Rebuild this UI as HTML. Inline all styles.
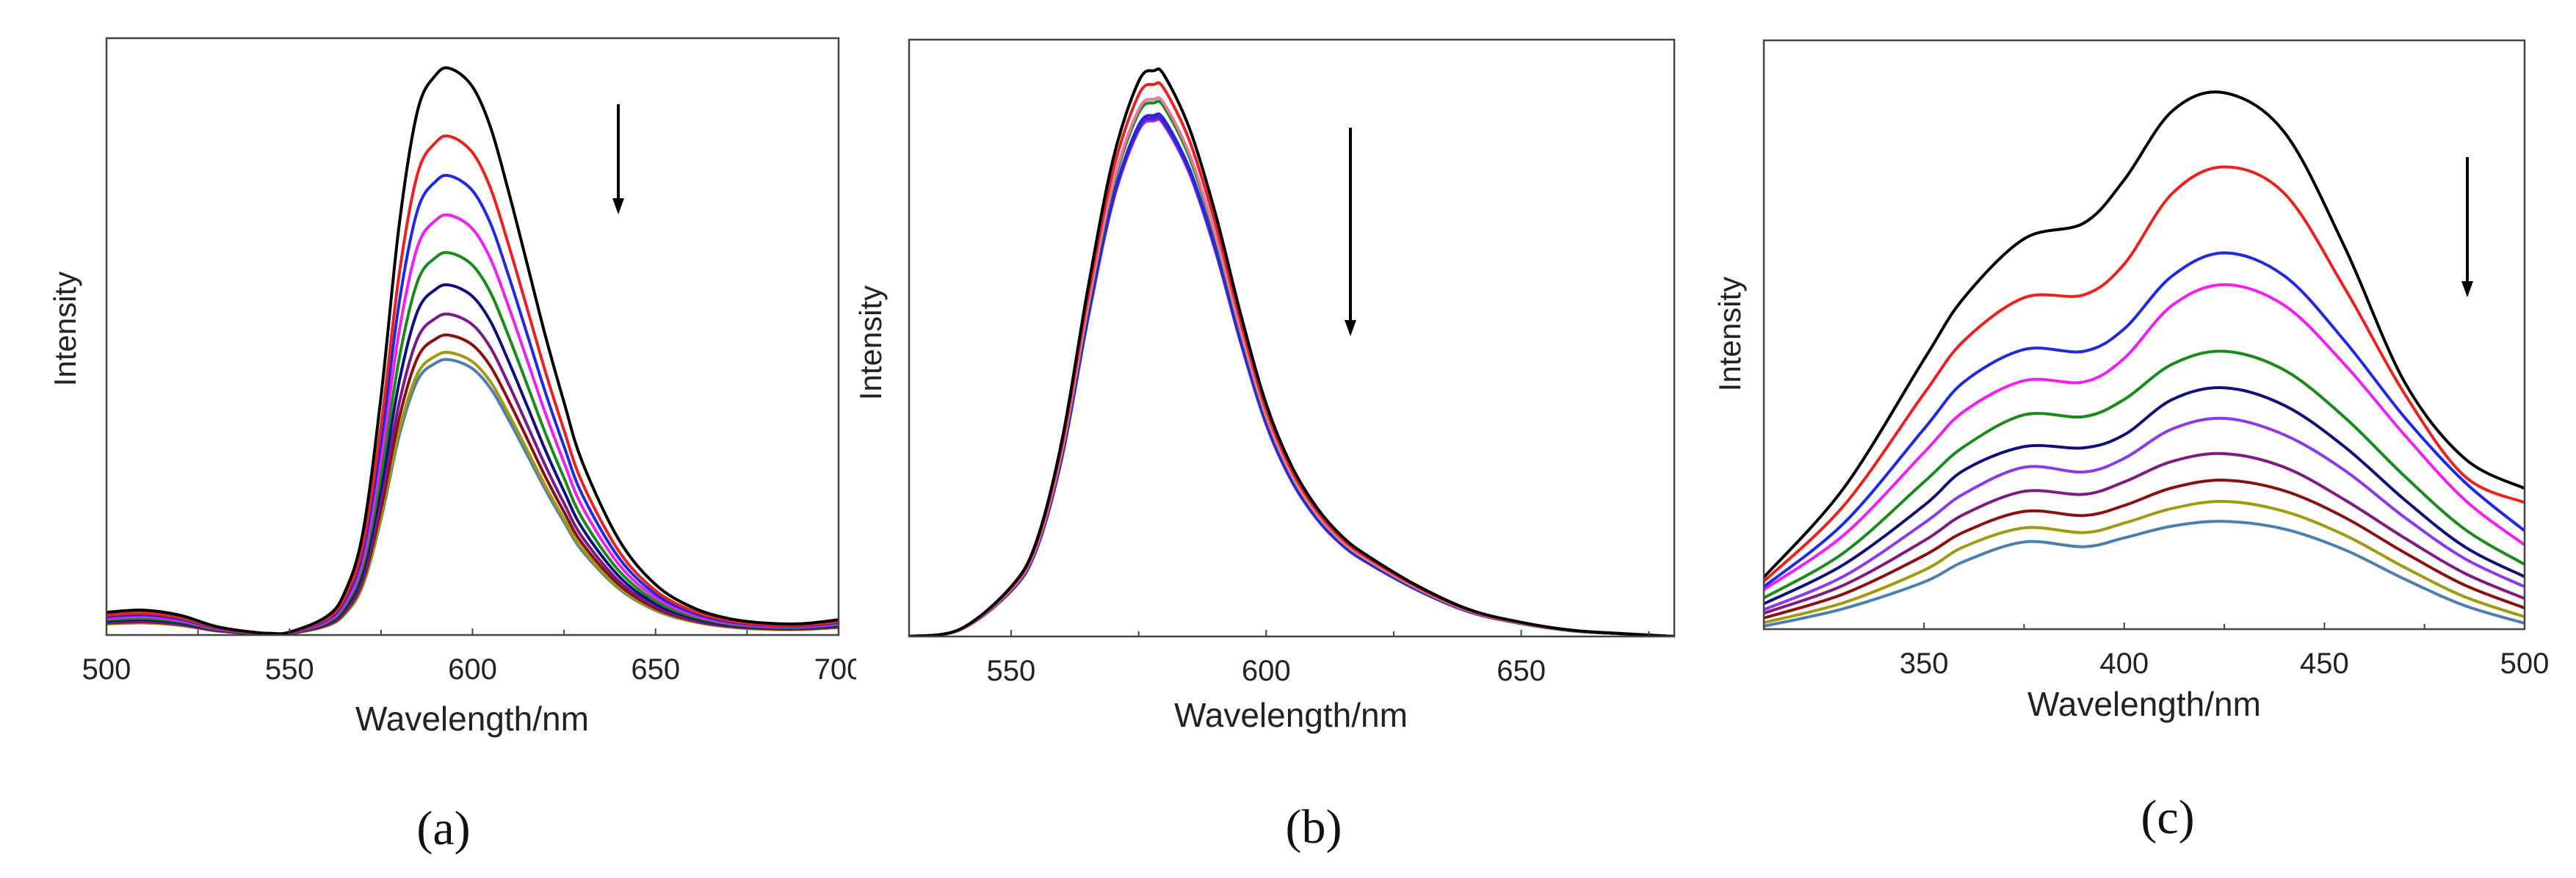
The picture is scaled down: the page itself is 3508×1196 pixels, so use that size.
<!DOCTYPE html>
<html><head><meta charset="utf-8"><style>
html,body{margin:0;padding:0;background:#fff;width:3508px;height:1196px;overflow:hidden}
svg{display:block}
.tk{font-family:"Liberation Sans",sans-serif;font-size:40px;fill:#222}
.ti{font-family:"Liberation Sans",sans-serif;font-size:46px;fill:#222}
.yt{font-family:"Liberation Sans",sans-serif;font-size:42px;fill:#222}
.cap{font-family:"Liberation Serif",serif;font-size:66px;fill:#111}
</style></head><body>
<svg id="fig" width="3508" height="1196" viewBox="0 0 3508 1196" xmlns="http://www.w3.org/2000/svg">
</svg>
<script>
// ---------- Panel (a) data ----------
const aWavelengths = [500,510,520,530,540,545,550,560,565,570,575,580,585,590,594,600,605,610,615,620,625,630,640,650,660,670,680,690,700];
const aProfile = [0.040,0.044,0.035,0.015,0.005,0.003,0.005,0.032,0.074,0.179,0.421,0.726,0.926,0.989,1.0,0.968,0.895,0.779,0.653,0.526,0.411,0.305,0.168,0.089,0.049,0.029,0.021,0.020,0.027];
const aPeaks = [0.949,0.835,0.769,0.703,0.640,0.586,0.537,0.502,0.473,0.461];
const aColors = ["#000000","#e8231f","#1f2ae0","#f020f0","#1a8a1a","#10107a","#7a1a8a","#8b1010","#a09a10","#4a80b0"];
// ---------- Panel (b) data ----------
const bWavelengths = [530,540,550,555,560,565,570,575,578,580,585,590,595,600,605,610,615,620,630,640,650,660,670,680];
const bProfile = [0.0,0.013,0.088,0.169,0.348,0.612,0.844,0.981,1.0,0.992,0.897,0.749,0.570,0.411,0.301,0.227,0.176,0.142,0.088,0.047,0.025,0.011,0.005,0.0];
const bPeaks = [0.948,0.925,0.90,0.894,0.873,0.868,0.864];
const bColors = ["#000000","#e8231f","#e878a0","#1a8a1a","#1f2ae0","#5a20c0","#8a2be8"];
// ---------- Panel (c) data ----------
const cWavelengths = [310,330,350,360,375,390,400,412,425,440,455,470,485,500];
const cSeries0 = [.088,.24,.458,.563,.663,.69,.763,.88,.911,.844,.65,.42,.29,.239];
const cSeries1 = [.081,.21,.40,.49,.563,.568,.62,.74,.785,.74,.58,.40,.26,.215];
const cSeries2 = [.072,.18,.34,.42,.475,.472,.51,.60,.639,.60,.49,.36,.25,.167];
const cSeries3 = [.067,.16,.30,.37,.422,.42,.46,.55,.585,.55,.45,.33,.22,.143];
const cSeries4 = [.053,.13,.25,.31,.364,.361,.39,.45,.472,.44,.36,.26,.17,.11];
const cSeries5 = [.043,.11,.21,.27,.31,.308,.33,.39,.41,.38,.31,.22,.14,.089];
const cSeries6 = [.033,.09,.18,.23,.275,.267,.29,.34,.358,.33,.27,.19,.12,.072];
const cSeries7 = [.027,.075,.15,.195,.234,.229,.25,.285,.298,.275,.22,.155,.095,.052];
const cSeries8 = [.019,.06,.125,.165,.20,.193,.21,.24,.253,.235,.19,.13,.075,.036];
const cSeries9 = [.011,.045,.10,.14,.172,.164,.18,.205,.217,.20,.16,.105,.055,.021];
const cSeries10 = [.005,.035,.08,.115,.148,.14,.155,.175,.183,.17,.135,.085,.04,.01];
const cColors = ["#000000","#e8231f","#1f2ae0","#f020f0","#1a8a1a","#10107a","#8a3ae8","#801a80","#8b1010","#a09a10","#4a80b0"];
const aTicks = ["500","550","600","650","700"];
const bTicks = ["550","600","650"];
const cTicks = ["350","400","450","500"];

const NS = "http://www.w3.org/2000/svg";
const svg = document.getElementById("fig");
function mk(tag, attrs, parent){const e=document.createElementNS(NS,tag);for(const k in attrs)e.setAttribute(k,attrs[k]);(parent||svg).appendChild(e);return e;}
function smooth(pts){let d="M"+pts[0][0].toFixed(1)+","+pts[0][1].toFixed(1);
 for(let i=0;i<pts.length-1;i++){const p0=pts[i-1]||pts[i],p1=pts[i],p2=pts[i+1],p3=pts[i+2]||p2;
  const c1=[p1[0]+(p2[0]-p0[0])/6,p1[1]+(p2[1]-p0[1])/6],c2=[p2[0]-(p3[0]-p1[0])/6,p2[1]-(p3[1]-p1[1])/6];
  d+=" C"+c1[0].toFixed(1)+","+c1[1].toFixed(1)+" "+c2[0].toFixed(1)+","+c2[1].toFixed(1)+" "+p2[0].toFixed(1)+","+p2[1].toFixed(1);}
 return d;}

function panel(cfg){
 const g=mk("g",{});
 
 
 const X=w=>cfg.L+(w-cfg.x0)/(cfg.x1-cfg.x0)*(cfg.R-cfg.L);
 const Y=f=>cfg.B-f*(cfg.B-cfg.T);
 const cp=mk("clipPath",{id:cfg.name+"-clip"},g);
 mk("rect",{x:cfg.L,y:cfg.T,width:cfg.R-cfg.L,height:cfg.B-cfg.T},cp);
 const lines=mk("g",{"clip-path":"url(#"+cfg.name+"-clip)"},g);
 
 
 for(let s=cfg.series.length-1;s>=0;s--){
  const vals=cfg.series[s];
  const pts=cfg.wl.map((w,i)=>[X(w),Y(vals[i])]);
  const p=mk("path",{d:smooth(pts),fill:"none",stroke:cfg.colors[s],"stroke-width":4,"stroke-linejoin":"round"},lines);
  
  
 }
 const fr=mk("rect",{x:cfg.L,y:cfg.T,width:cfg.R-cfg.L,height:cfg.B-cfg.T,fill:"none",stroke:"#444","stroke-width":2.5},g);
 
 
 for(let w=cfg.tickStart;w<=cfg.x1;w+=cfg.tickStep/2){
  const x=X(w);const maj=((w-cfg.tickStart)%cfg.tickStep)===0;
  const t=mk("line",{x1:x,x2:x,y1:cfg.B,y2:cfg.B-(maj?9:7),stroke:"#444","stroke-width":2},g);
  
  
 }
 cfg.ticks.forEach(lbl=>{
  const t=mk("text",{x:X(+lbl),y:cfg.B+60,"text-anchor":"middle",class:"tk"},g);
  t.textContent=lbl;
  
  
 });
 const xt=mk("text",{x:cfg.xtX,y:cfg.xtY,"text-anchor":"middle",class:"ti"},g);
 xt.textContent="Wavelength/nm";
 
 
 const yt=mk("text",{x:0,y:0,"text-anchor":"middle",class:"yt",transform:"translate("+cfg.ytX+","+cfg.ytY+") rotate(-90)"},g);
 yt.textContent="Intensity";
 
 
 const ar=mk("line",{x1:cfg.arX,x2:cfg.arX,y1:cfg.arY0,y2:cfg.arY1-18,stroke:"#000","stroke-width":4},g);
 
 
 const ah=mk("polygon",{points:(cfg.arX-8)+","+(cfg.arY1-22)+" "+(cfg.arX+8)+","+(cfg.arY1-22)+" "+cfg.arX+","+cfg.arY1,fill:"#000"},g);
 
 
 const cap=mk("text",{x:cfg.capX,y:cfg.capY,"text-anchor":"middle",class:"cap"},g);
 cap.textContent=cfg.cap;
 
 
}

panel({name:"panel-a",L:145,R:1142,T:52,B:865,x0:500,x1:700,wl:aWavelengths,
 series:aPeaks.map(p=>aProfile.map(v=>v*p)),colors:aColors,ticks:aTicks,tickStart:500,tickStep:50,
 xtX:643,xtY:995,ytX:103,ytY:448,arX:842,arY0:142,arY1:292,capX:604,capY:1150,cap:"(a)"});
panel({name:"panel-b",L:1238,R:2280,T:54,B:867,x0:530,x1:680,wl:bWavelengths,
 series:bPeaks.map(p=>bProfile.map(v=>v*p)),colors:bColors,ticks:bTicks,tickStart:550,tickStep:50,
 xtX:1758,xtY:990,ytX:1200,ytY:467,arX:1839,arY0:174,arY1:458,capX:1789,capY:1148,cap:"(b)"});
panel({name:"panel-c",L:2402,R:3438,T:55,B:857,x0:310,x1:500,wl:cWavelengths,
 series:[cSeries0,cSeries1,cSeries2,cSeries3,cSeries4,cSeries5,cSeries6,cSeries7,cSeries8,cSeries9,cSeries10],
 colors:cColors,ticks:cTicks,tickStart:350,tickStep:50,
 xtX:2920,xtY:975,ytX:2370,ytY:455,arX:3360,arY0:214,arY1:405,capX:2952,capY:1135,cap:"(c)"});
const m=mk("rect",{x:1166,y:870,width:40,height:80,fill:"#fff"});


</script>
</body></html>
